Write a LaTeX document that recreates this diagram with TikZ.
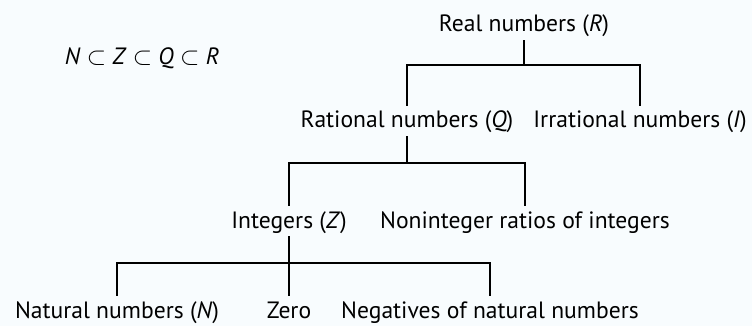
\documentclass[tikz,border=0pt]{standalone}
\usepackage{fontspec}
\setmainfont{PT Sans}
\usepackage{tikz}
\usetikzlibrary{positioning}
\definecolor{paper}{HTML}{F8FCFE}

\begin{document}
\begin{tikzpicture}[
  x=1pt, y=-1pt,
  t/.style={anchor=base, inner xsep=0pt, inner ysep=2pt, text height=20pt, text depth=6pt, font=\fontsize{23.6}{27}\selectfont},
  ln/.style={line width=2pt}
]
\fill[paper] (0,0) rectangle (752,326);
\useasboundingbox (0,0) rectangle (752,326);
\node[t] (sub) at (142,65) {\textit{N} $\subset$ \textit{Z} $\subset$ \textit{Q} $\subset$ \textit{R}};
\node[t] (r) at (524,32) {Real numbers (\textit{R})};
\node[t] (q) at (407,128) {Rational numbers (\textit{Q})};
\node[t] (i) at (640,128) {Irrational numbers (\textit{I})};
\node[t] (z) at (289,228) {Integers (\textit{Z})};
\node[t] (nr) at (525,228) {Noninteger ratios of integers};
\node[t] (n) at (117,318) {Natural numbers (\textit{N})};
\node[t] (zero) at (289,318) {Zero};
\node[t] (neg) at (490,318) {Negatives of natural numbers};
\coordinate (j1) at (524,65);
\coordinate (j2) at (407,163);
\coordinate (j3) at (289,263);
\draw[ln] (r) -- (j1);
\draw[ln] (q) |- (j1) -| (i);
\draw[ln] (q) -- (j2);
\draw[ln] (z) |- (j2) -| (nr);
\draw[ln] (z) -- (j3);
\draw[ln] (n) |- (j3) -| (neg);
\draw[ln] (zero) -- (j3);
\end{tikzpicture}
\end{document}
